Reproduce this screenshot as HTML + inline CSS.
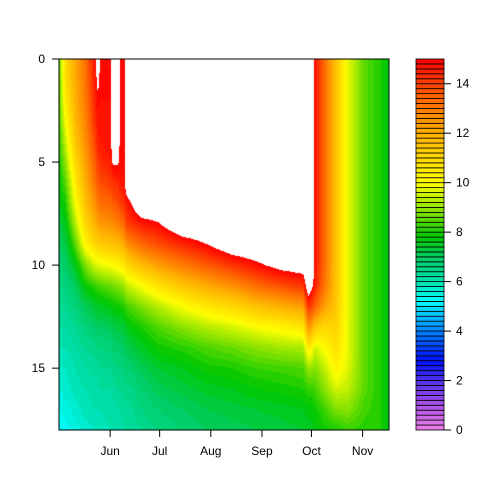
<!DOCTYPE html>
<html><head><meta charset="utf-8"><style>
html,body{margin:0;padding:0;background:#fff;}
#wrap{position:relative;width:504px;height:504px;font-family:"Liberation Sans",sans-serif;}
canvas{position:absolute;left:59px;top:59px;}
svg{position:absolute;left:0;top:0;}
</style></head><body>
<div id="wrap">
<canvas id="cv" width="330" height="371"></canvas>
<svg id="sv" width="504" height="504"></svg>
</div>
<script>
// days since May 1
const days = [0,4,10,16,22,23.5,25,31.5,32.6,35.8,36.8,39.7,40.8,45,50,60,75,90,105,120,135,148,151,153,155,160,168,175,185,195,200];
const depths = [0,1,2,3,4,5,6,7,8,9,10,11,12,13,14,15,16,17,18];
const temps = [
[8.6,8.5,8.4,8.3,8.1,7.9,7.7,7.5,7.2,7.0,6.8,6.6,6.4,6.2,6.0,5.8,5.6,5.4,5.2],
[11,10.8,10.5,10.0,9.5,9.0,8.5,8.0,7.6,7.2,6.9,6.6,6.4,6.2,6.0,5.8,5.7,5.5,5.3],
[12.2,12.1,12,11.8,11.5,11,10.5,10,9.3,8.5,7.6,7.0,6.7,6.4,6.2,6.0,5.9,5.7,5.5],
[13.2,13.1,13,12.8,12.6,12.3,12,11.6,11,10.2,8.8,7.8,7.1,6.7,6.4,6.2,6.0,5.9,5.7],
[14.8,14.7,14.5,14.3,14,13.6,13.2,12.6,12,11,9.6,8.2,7.4,6.9,6.5,6.3,6.1,6.0,5.8],
[16,15.2,14.9,14.7,14.5,14.1,13.6,13.0,12.2,11.1,9.7,8.3,7.5,7.0,6.6,6.3,6.1,6.0,5.8],
[14.8,14.8,14.8,14.7,14.6,14.3,13.8,13.2,12.4,11.3,9.8,8.4,7.5,7.0,6.6,6.4,6.2,6.0,5.9],
[14.8,14.8,14.8,14.8,14.8,14.6,14.1,13.4,12.6,11.5,10.0,8.6,7.7,7.1,6.7,6.4,6.2,6.1,6.0],
[16,16,16,16,16,15.1,14.3,13.6,12.7,11.6,10.1,8.7,7.8,7.2,6.8,6.5,6.3,6.1,6.0],
[16,16,16,16,16,15.1,14.4,13.8,12.9,11.7,10.2,8.8,7.9,7.3,6.9,6.6,6.4,6.2,6.1],
[14.9,14.9,14.9,14.9,14.9,14.8,14.6,14.0,13.0,11.8,10.3,8.9,7.9,7.3,6.9,6.6,6.4,6.2,6.1],
[14.9,14.9,14.9,14.9,14.9,14.9,14.8,14.3,13.4,12.1,10.6,9.1,8.1,7.4,7.0,6.7,6.5,6.3,6.2],
[16,16,16,16,16,16,15.6,14.6,14.0,12.5,10.9,9.4,8.3,7.6,7.1,6.8,6.5,6.3,6.2],
[16,16,16,16,16,16,16,15.2,14.3,12.9,11.3,9.7,8.5,7.8,7.3,6.9,6.6,6.4,6.3],
[16,16,16,16,16,16,16,16,14.6,13.3,11.7,10.0,8.8,8.0,7.5,7.1,6.8,6.6,6.4],
[16,16,16,16,16,16,16,16,14.9,13.8,12.3,10.7,9.3,8.4,7.9,7.4,7.1,6.8,6.6],
[16,16,16,16,16,16,16,16,16,14.4,13.0,11.5,10.0,8.9,8.1,7.6,7.3,7.0,6.8],
[16,16,16,16,16,16,16,16,16,15.0,13.6,12.1,10.6,9.3,8.4,7.9,7.5,7.2,7.0],
[16,16,16,16,16,16,16,16,16,15.8,14.2,12.6,11.0,9.6,8.6,8.0,7.6,7.3,7.1],
[16,16,16,16,16,16,16,16,16,16,14.8,13.3,11.6,10.0,8.9,8.2,7.8,7.4,7.2],
[16,16,16,16,16,16,16,16,16,16,15.4,13.8,12.0,10.3,9.1,8.3,7.9,7.5,7.3],
[16,16,16,16,16,16,16,16,16,16,15.6,14.2,12.4,10.6,9.2,8.4,8.0,7.6,7.4],
[16,16,16,16,16,16,16,16,16,16,16,15.8,14.2,12.5,10.5,9.0,8.2,7.7,7.5],
[16,16,16,16,16,16,16,16,16,16,16,15.3,14.0,12.2,10.3,9.0,8.2,7.7,7.5],
[14.8,14.8,14.8,14.8,14.8,14.8,14.8,14.8,14.8,14.8,14.8,14.6,13.5,11.5,9.6,8.8,8.3,7.9,7.6],
[13.5,13.5,13.5,13.5,13.5,13.5,13.5,13.5,13.5,13.5,13.5,13.3,12.5,11.0,10.0,9.3,8.8,8.2,7.9],
[11.5,11.5,11.5,11.5,11.5,11.5,11.5,11.5,11.5,11.5,11.5,11.5,11.4,11.1,10.8,10.3,9.6,8.8,8.0],
[9.8,9.8,9.8,9.8,9.8,9.8,9.8,9.8,9.8,9.8,9.8,9.8,9.8,9.8,9.8,9.7,9.4,8.9,8.2],
[8.5,8.5,8.5,8.5,8.5,8.5,8.5,8.5,8.5,8.5,8.5,8.5,8.5,8.5,8.5,8.5,8.5,8.3,8.1],
[8.0,8.0,8.0,8.0,8.0,8.0,8.0,8.0,8.0,8.0,8.0,8.0,8.0,8.0,8.0,8.0,8.0,8.0,8.0],
[7.6,7.6,7.6,7.6,7.6,7.6,7.6,7.6,7.6,7.6,7.6,7.6,7.6,7.6,7.6,7.6,7.6,7.6,7.6]
];
const monthLabels = ["Jun","Jul","Aug","Sep","Oct","Nov"];
const monthDays = [31,61,92,123,153,184];
const depthTicks = [0,5,10,15];
const legendTicks = [0,2,4,6,8,10,12,14];
const levelStep = 0.2, levelMax = 15;

const PX=59, PY=59, PW=330, PH=371, DMAX=200, ZMAX=18;
const xS = d => PX + d/DMAX*PW;
const yS = z => PY + z/ZMAX*PH;
const stops=[[0,[240,128,232]],[1,[170,80,232]],[2,[80,48,232]],[2.8,[0,16,255]],[4,[0,128,255]],[5.2,[0,255,255]],[6,[0,224,176]],[7,[0,204,96]],[7.8,[0,200,0]],[8.8,[128,224,0]],[10,[255,255,0]],[12,[255,176,0]],[13.5,[255,96,0]],[15,[255,0,0]]];
function pal(v){
  if(v<=stops[0][0])return stops[0][1];
  for(let i=1;i<stops.length;i++){if(v<=stops[i][0]){const a=stops[i-1],b=stops[i],t=(v-a[0])/(b[0]-a[0]);return a[1].map((c,k)=>Math.round(c+(b[1][k]-c)*t));}}
  return stops[stops.length-1][1];
}
function val(d,z){
  let i=0;while(i<days.length-2&&d>days[i+1])i++;
  let tx=(d-days[i])/(days[i+1]-days[i]);tx=Math.max(0,Math.min(1,tx));
  let j=Math.min(Math.floor(z),depths.length-2);let tz=z-depths[j];tz=Math.max(0,Math.min(1,tz));
  const a=temps[i][j],b=temps[i][j+1],c=temps[i+1][j],e=temps[i+1][j+1];
  return (a*(1-tz)+b*tz)*(1-tx)+(c*(1-tz)+e*tz)*tx;
}
const cv=document.getElementById('cv'),ctx=cv.getContext('2d');
const img=ctx.createImageData(PW,PH);
for(let py=0;py<PH;py++){for(let px=0;px<PW;px++){
  const d=(px+0.5)/PW*DMAX, z=(py+0.5)/PH*ZMAX, v=val(d,z);
  const k=(py*PW+px)*4; let col=[255,255,255];
  if(v<=levelMax){const b=Math.floor(v/levelStep);col=pal(b*levelStep+levelStep/2);}
  img.data[k]=col[0];img.data[k+1]=col[1];img.data[k+2]=col[2];img.data[k+3]=255;
}}
ctx.putImageData(img,0,0);

const NS='http://www.w3.org/2000/svg',sv=document.getElementById('sv');
function el(t,at,txt){const e=document.createElementNS(NS,t);for(const k in at)e.setAttribute(k,at[k]);if(txt!==undefined)e.textContent=txt;sv.appendChild(e);return e;}
let r=el('rect',{x:PX,y:PY,width:PW,height:PH,fill:'none',stroke:'#000','stroke-width':1});


depthTicks.forEach(t=>{const y=yS(t);
  let l=el('line',{x1:PX-7,x2:PX,y1:y,y2:y,stroke:'#000'});
  
  
  let tx=el('text',{x:PX-14,y:y+4,'text-anchor':'end','font-size':12,fill:'#000'},String(t));
  
  
});
monthDays.forEach((d,i)=>{const x=xS(d);
  let l=el('line',{x1:x,x2:x,y1:PY+PH,y2:PY+PH+7,stroke:'#000'});
  
  
  let tx=el('text',{x:x,y:PY+PH+25,'text-anchor':'middle','font-size':12,fill:'#000'},monthLabels[i]);
  
  
});
const LX=416,LW=28,ly=v=>430-v/levelMax*371;
for(let v=0;v<levelMax-1e-9;v+=levelStep){const c=pal(v+levelStep/2);
  let rc=el('rect',{x:LX,y:ly(v+levelStep),width:LW,height:ly(v)-ly(v+levelStep),fill:`rgb(${c})`,stroke:'#000','stroke-width':0.8});
  
  
}
legendTicks.forEach(t=>{const y=ly(t);
  let l=el('line',{x1:LX+LW,x2:LX+LW+7,y1:y,y2:y,stroke:'#000'});
  
  
  let tx=el('text',{x:LX+LW+12,y:y+4,'font-size':12,fill:'#000'},String(t));
  
  
});
</script>
</body></html>
